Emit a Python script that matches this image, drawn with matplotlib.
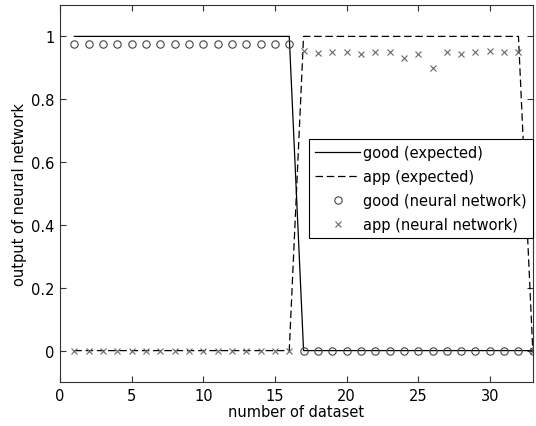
import matplotlib
matplotlib.use("Agg")
import matplotlib.pyplot as plt
import numpy as np

plt.rcParams['font.family'] = ['DejaVu Sans']

datasets = list(range(1, 34))
good_expected = [1]*16 + [0]*17
app_expected = [0]*16 + [1]*16 + [0]
good_nn = [0.976]*16 + [0.0]*17
app_nn = [0.0]*16 + [0.953, 0.946, 0.949, 0.950, 0.945, 0.950, 0.950, 0.931,
                     0.944, 0.899, 0.950, 0.945, 0.950, 0.954, 0.950, 0.950] + [0.0]

fig = plt.figure(figsize=(5.36, 4.27), dpi=100)
ax = fig.add_axes([0.112, 0.103, 0.882, 0.883])

ax.plot(datasets, good_expected, '-', color='black', lw=0.9, label='good (expected)')
ax.plot(datasets, app_expected, '--', color='black', lw=0.9, dashes=(6, 3), label='app (expected)')
ax.plot(datasets, good_nn, 'o', ls='none', mfc='none', mec='#444444', ms=5.3, mew=0.8,
        label='good (neural network)')
ax.plot(datasets, app_nn, 'x', ls='none', color='#666666', ms=3.8, mew=0.8,
        label='app (neural network)')

ax.set_xlim(0, 33)
ax.set_ylim(-0.1, 1.1)
ax.set_xticks([0, 5, 10, 15, 20, 25, 30])
ax.set_yticks([0, 0.2, 0.4, 0.6, 0.8, 1])
ax.set_yticklabels(['0', '0.2', '0.4', '0.6', '0.8', '1'])
ax.tick_params(direction='in', top=True, right=True, labelsize=10.5, length=4, width=0.8,
               color='#333333', pad=4)
for s in ax.spines.values():
    s.set_linewidth(0.8)
    s.set_color('#333333')
ax.set_xlabel('number of dataset', fontsize=10.5, labelpad=1)
ax.set_ylabel('output of neural network', fontsize=10.5, labelpad=3)

leg = ax.legend(loc='upper right', bbox_to_anchor=(1.0, 0.645), borderaxespad=0,
                fancybox=False, framealpha=1, edgecolor='black', fontsize=10.5,
                handlelength=3.1, labelspacing=0.6, handletextpad=0.15, borderpad=0.45)
leg.get_frame().set_linewidth(0.8)

fig.savefig('out.png', dpi=100)
